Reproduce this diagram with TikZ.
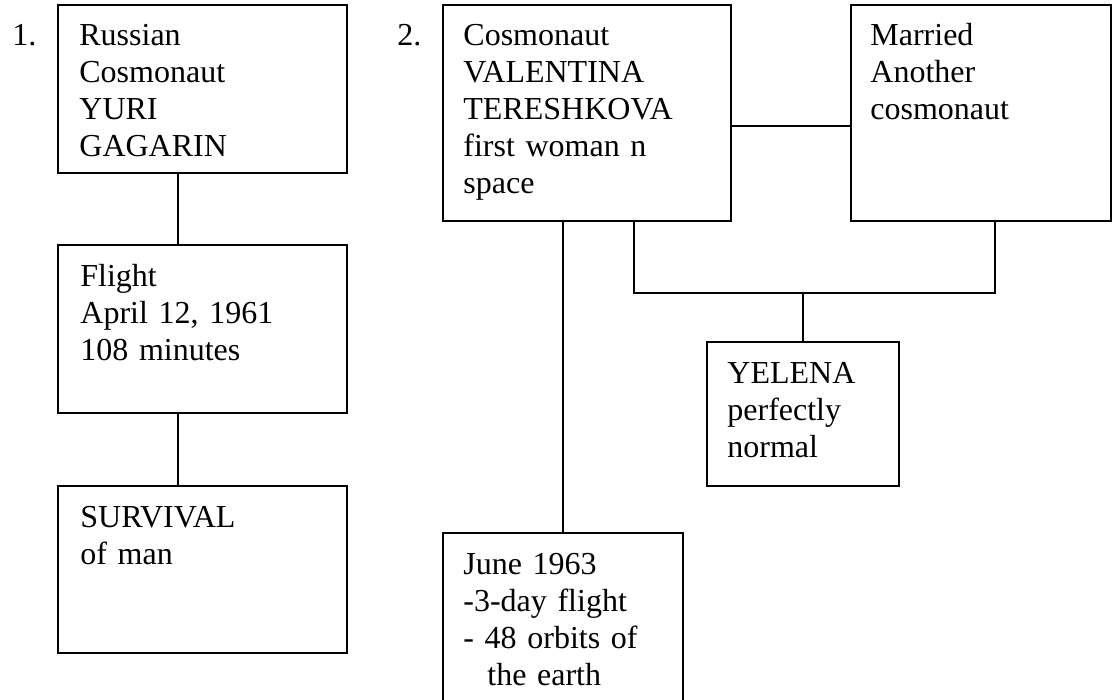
\documentclass[tikz,border=0pt]{standalone}
\usepackage{fontspec}
\setmainfont{Liberation Serif}
\tikzset{
  box/.style={draw, line width=1pt, inner sep=0pt, outer sep=0pt, anchor=north west},
  txt/.style={anchor=base west, align=left, text width=150pt, inner sep=0pt,
    font=\fontsize{16}{18.5}\selectfont},
  link/.style={line width=1pt},
}
\newcommand\rbox[5]{\node[box, minimum width={(#4-#2)*0.5pt}, minimum height={(#5-#3)*0.5pt}] (#1) at (#2,#3) {};}
\begin{document}
\begin{tikzpicture}[x=0.5pt,y=-0.5pt]
\useasboundingbox (0,0) rectangle (1113,700);
% left chain
\rbox{gagarin}{58}{5}{347}{173}
\rbox{flight}{58}{245}{347}{413}
\rbox{survival}{58}{486}{347}{653}
% right tree
\rbox{valentina}{443}{5}{731}{221}
\rbox{married}{851}{5}{1111}{221}
\rbox{yelena}{707}{342}{899}{486}
\rbox{june}{443}{533}{683}{720}
\node[txt] (n1) at (12,46) {1.};
\node[txt] (n2) at (397,46) {2.};
\node[txt] (tgagarin) at (79,46) {Russian\\Cosmonaut\\YURI\\GAGARIN};
\node[txt] (tflight) at (80,286) {Flight\\April 12, 1961\\108 minutes};
\node[txt] (tsurvival) at (80,527) {SURVIVAL\\of man};
\node[txt] (tvalentina) at (463,46) {Cosmonaut\\VALENTINA\\TERESHKOVA\\first woman n\\space};
\node[txt] (tmarried) at (870,46) {Married\\Another\\cosmonaut};
\node[txt] (tyelena) at (727,383) {YELENA\\perfectly\\normal};
\node[txt] (tjune) at (463,574) {June 1963\\-3-day flight\\- 48 orbits of\\\hspace*{12pt}the earth};
% connectors
\coordinate (lx) at (178,0);
\coordinate (my) at (0,126);
\coordinate (jx) at (563,0);
\coordinate (px) at (634,0);
\coordinate (qx) at (995,0);
\coordinate (bar) at (803,293);
\draw[link] (gagarin.south -| lx) -- (flight.north -| lx);
\draw[link] (flight.south -| lx) -- (survival.north -| lx);
\draw[link] (valentina.east |- my) -- (married.west |- my);
\draw[link] (valentina.south -| jx) -- (june.north -| jx);
\draw[link] (valentina.south -| px) |- (bar) -| (married.south -| qx);
\draw[link] (bar) -- (yelena.north);
\end{tikzpicture}
\end{document}
